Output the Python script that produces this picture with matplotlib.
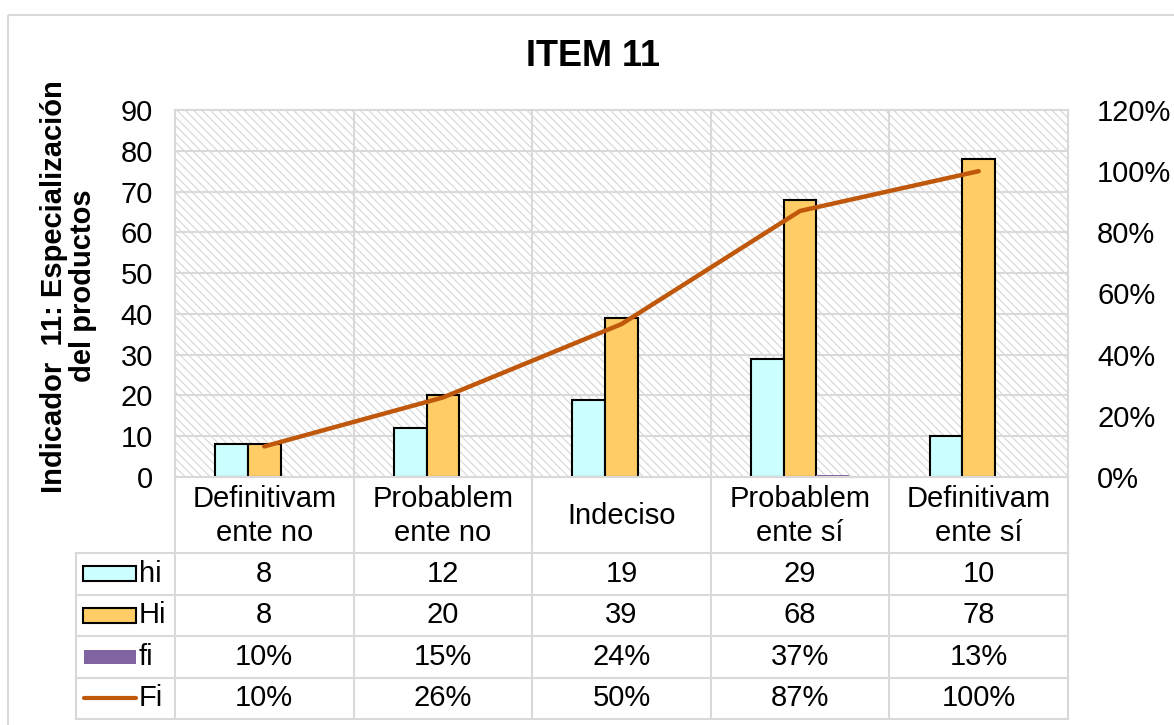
import numpy as np
import matplotlib.pyplot as plt
from matplotlib.patches import Rectangle
from matplotlib.lines import Line2D
from matplotlib.ticker import PercentFormatter

plt.rcParams['font.family'] = ['Liberation Sans', 'DejaVu Sans']
plt.rcParams['hatch.linewidth'] = 0.8

# data
categorias = ['Definitivam\nente no', 'Probablem\nente no', 'Indeciso',
              'Probablem\nente sí', 'Definitivam\nente sí']
hi = [8, 12, 19, 29, 10]
Hi = [8, 20, 39, 68, 78]
fi = [0.10, 0.15, 0.24, 0.37, 0.13]
Fi = [0.10, 0.26, 0.50, 0.87, 1.00]
fi_txt = ['10%', '15%', '24%', '37%', '13%']
Fi_txt = ['10%', '26%', '50%', '87%', '100%']

c_hi = '#CCFFFF'
c_Hi = '#FFCC66'
c_fi = '#8064A2'
c_Fi = '#C0580C'
c_grid = '#D9D9D9'
fs = 21

W, H = 1174, 725
fig = plt.figure(figsize=(W / 100, H / 100), dpi=100)

# plot area in pixels
px_l, px_r, px_t, px_b = 175, 1068, 110, 477
ax = fig.add_axes([px_l / W, 1 - px_b / H, (px_r - px_l) / W, (px_b - px_t) / H])

x = np.arange(len(categorias))
w = 0.183

ax.add_patch(Rectangle((0, 0), 1, 1, transform=ax.transAxes, facecolor='white',
                       edgecolor='#D6D6D6', hatch='\\\\\\\\', lw=0, zorder=0))
ax.bar(x - w, hi, w, color=c_hi, edgecolor='black', lw=1.5, zorder=2)
ax.bar(x, Hi, w, color=c_Hi, edgecolor='black', lw=1.5, zorder=2)
ax.bar(x + w, fi, w, color=c_fi, zorder=2)

ax.set_xlim(-0.5, len(categorias) - 0.5)
ax.set_ylim(0, 90)
ax.set_yticks(range(0, 91, 10))
ax.set_xticks([])
ax.set_axisbelow(True)
ax.yaxis.grid(True, color=c_grid, lw=1.5)
for b in np.arange(0.5, len(categorias) - 0.5):
    ax.axvline(b, color=c_grid, lw=1.5, zorder=0.6)
for s in ax.spines.values():
    s.set_color(c_grid)
    s.set_linewidth(1.5)
ax.tick_params(axis='y', length=0, labelsize=fs, pad=16)

ax2 = ax.twinx()
ax2.plot(x, Fi, color=c_Fi, lw=3.2, solid_capstyle='round')
ax2.set_ylim(0, 1.2)
ax2.set_yticks(np.arange(0, 1.21, 0.2))
ax2.yaxis.set_major_formatter(PercentFormatter(1.0, decimals=0))
ax2.tick_params(axis='y', length=0, labelsize=fs, pad=21)
for s in ax2.spines.values():
    s.set_visible(False)

fig.text(593 / W, 1 - 57 / H, 'ITEM 11', fontsize=26, fontweight='bold',
         ha='center', va='center')
ax.set_ylabel('Indicador  11: Especialización\ndel productos', fontsize=fs,
              fontweight='bold', linespacing=1.05)
ax.yaxis.set_label_coords(-0.087, 0.52)

# data table below the plot area, drawn in pixel coordinates
tab = fig.add_axes([0, 0, 1, 1], zorder=-1)
tab.set_xlim(0, W)
tab.set_ylim(H, 0)
tab.axis('off')

# outer chart border
tab.add_patch(Rectangle((8, 15), W, H, fill=False, edgecolor=c_grid, lw=1.5))

col_w = (px_r - px_l) / len(categorias)
leg_l = 76
rows = [px_b, 553, 594.5, 636, 677.5, 719]

tab.plot([px_l, px_r], [rows[0], rows[0]], color=c_grid, lw=1.5)
for r in rows[1:]:
    tab.plot([leg_l, px_r], [r, r], color=c_grid, lw=1.5)
tab.plot([leg_l, leg_l], [rows[1], rows[-1]], color=c_grid, lw=1.5)
for i in range(len(categorias) + 1):
    xc = px_l + i * col_w
    tab.plot([xc, xc], [rows[0], rows[-1]], color=c_grid, lw=1.5)

centers = px_l + (x + 0.5) * col_w
for xc, cat in zip(centers, categorias):
    tab.text(xc, (rows[0] + rows[1]) / 2 + 1, cat, ha='center', va='center',
             fontsize=fs, linespacing=1.25)

valores = [[str(v) for v in hi], [str(v) for v in Hi], fi_txt, Fi_txt]
for k, fila in enumerate(valores):
    yc = (rows[k + 1] + rows[k + 2]) / 2
    for xc, t in zip(centers, fila):
        tab.text(xc, yc, t, ha='center', va='center', fontsize=fs)

# legend keys in the first column
nombres = ['hi', 'Hi', 'fi', 'Fi']
for k, nom in enumerate(nombres):
    yc = (rows[k + 1] + rows[k + 2]) / 2
    if nom == 'hi':
        tab.add_patch(Rectangle((83, yc - 7.5), 53, 15, facecolor=c_hi, edgecolor='black', lw=1.5))
    elif nom == 'Hi':
        tab.add_patch(Rectangle((83, yc - 7.5), 53, 15, facecolor=c_Hi, edgecolor='black', lw=1.5))
    elif nom == 'fi':
        tab.add_patch(Rectangle((84, yc - 7), 52, 14, facecolor=c_fi, lw=0))
    else:
        tab.add_line(Line2D([84, 136], [yc, yc], color=c_Fi, lw=3, solid_capstyle='round'))
    tab.text(139, yc, nom, ha='left', va='center', fontsize=fs)

fig.savefig('out.png', dpi=100)
